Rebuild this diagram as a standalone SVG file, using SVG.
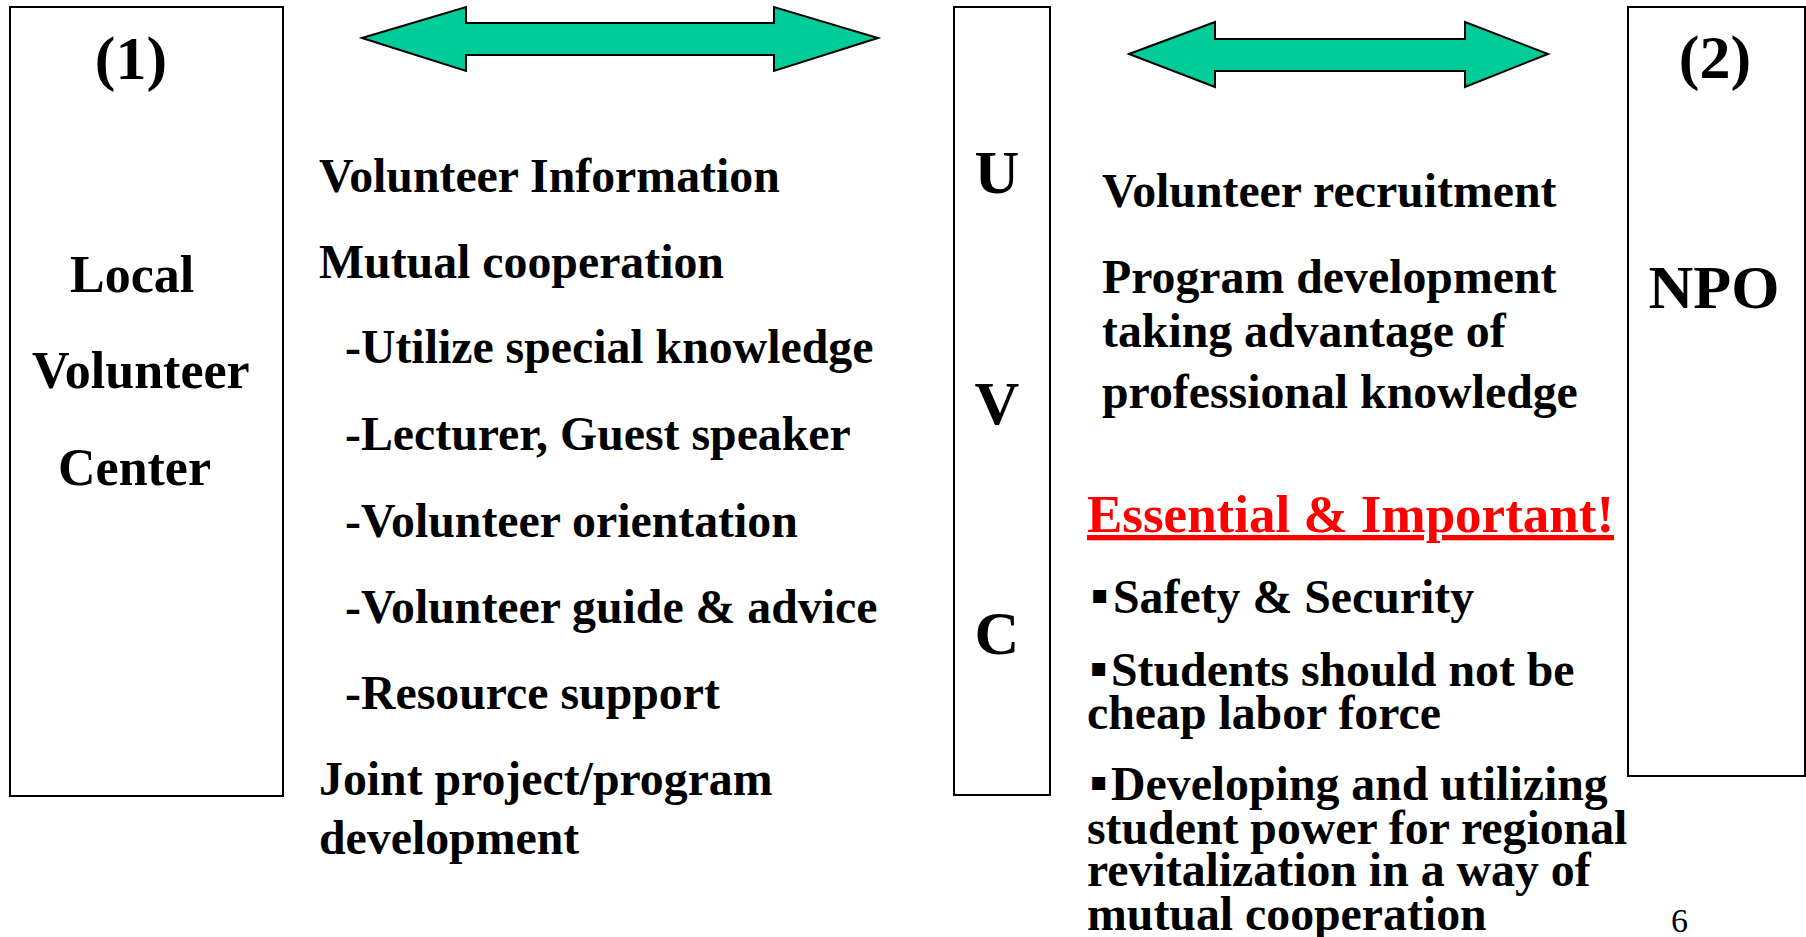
<svg xmlns="http://www.w3.org/2000/svg" width="1806" height="937" viewBox="0 0 1806 937">
<defs>
<style>
.box{fill:#ffffff;stroke:#000000;stroke-width:2}
.arrow{fill:#00CC99;stroke:#000000;stroke-width:2;stroke-linejoin:miter}
.t{font-family:"Liberation Serif","Times New Roman",serif;font-weight:bold;fill:#000000}
.m{font-size:47.8px}
.big{font-size:62px}
.lbl{font-size:52px}
.red{fill:#FF0000;font-size:53px;text-decoration:underline}
.bul{font-family:"DejaVu Sans",sans-serif;font-size:26px}
.pg{font-family:"Liberation Serif","Times New Roman",serif;font-size:34px;fill:#000000}
</style>
</defs>
<rect x="0" y="0" width="1806" height="937" fill="#ffffff"/>
<g id="node-local-volunteer-center">
<rect class="box" x="10" y="7" width="273" height="789"/>
<text class="t big" x="131" y="79" text-anchor="middle">(1)</text>
<text class="t lbl" x="70" y="292">Local</text>
<text class="t lbl" x="32" y="388">Volunteer</text>
<text class="t lbl" x="58" y="485">Center</text>
</g>
<g id="node-uvc">
<rect class="box" x="954" y="7" width="96" height="788"/>
<text class="t big" x="997" y="193" text-anchor="middle">U</text>
<text class="t big" x="997" y="424" text-anchor="middle">V</text>
<text class="t big" x="997" y="654" text-anchor="middle">C</text>
</g>
<g id="node-npo">
<rect class="box" x="1628" y="7" width="177" height="769"/>
<text class="t big" x="1715" y="78" text-anchor="middle">(2)</text>
<text class="t big" x="1714" y="308" text-anchor="middle">NPO</text>
</g>
<g id="connectors">
<polygon class="arrow" points="362,38 466,7 466,23 774,23 774,7 878,38 774,71 774,55 466,55 466,71"/>
<polygon class="arrow" points="1129,54 1215,22 1215,39 1465,39 1465,22 1548,54 1465,87 1465,71 1215,71 1215,87"/>
</g>
<g id="left-list">
<text class="t m" x="319" y="192">Volunteer Information</text>
<text class="t m" x="319" y="278">Mutual cooperation</text>
<text class="t m" x="345" y="363">-Utilize special knowledge</text>
<text class="t m" x="345" y="450">-Lecturer, Guest speaker</text>
<text class="t m" x="345" y="537">-Volunteer orientation</text>
<text class="t m" x="345" y="623">-Volunteer guide &amp; advice</text>
<text class="t m" x="345" y="709">-Resource support</text>
<text class="t m" x="319" y="795">Joint project/program</text>
<text class="t m" x="319" y="854">development</text>
</g>
<g id="right-list">
<text class="t m" x="1102" y="207">Volunteer recruitment</text>
<text class="t m" x="1102" y="293">Program development</text>
<text class="t m" x="1102" y="347">taking advantage of</text>
<text class="t m" x="1102" y="408">professional knowledge</text>
<text class="t red" x="1087" y="532">Essential &amp; Important!</text>
<text class="t m" y="613"><tspan class="bul" x="1091" dy="-10">▪</tspan><tspan x="1113" dy="10">Safety &amp; Security</tspan></text>
<text class="t m" y="686"><tspan class="bul" x="1090" dy="-10">▪</tspan><tspan x="1111" dy="10">Students should not be</tspan></text>
<text class="t m" x="1087" y="729">cheap labor force</text>
<text class="t m" y="800"><tspan class="bul" x="1090" dy="-10">▪</tspan><tspan x="1111" dy="10">Developing and utilizing</tspan></text>
<text class="t m" x="1087" y="844">student power for regional</text>
<text class="t m" x="1087" y="886">revitalization in a way of</text>
<text class="t m" x="1087" y="930">mutual cooperation</text>
</g>
<text class="pg" x="1671" y="932">6</text>
</svg>
